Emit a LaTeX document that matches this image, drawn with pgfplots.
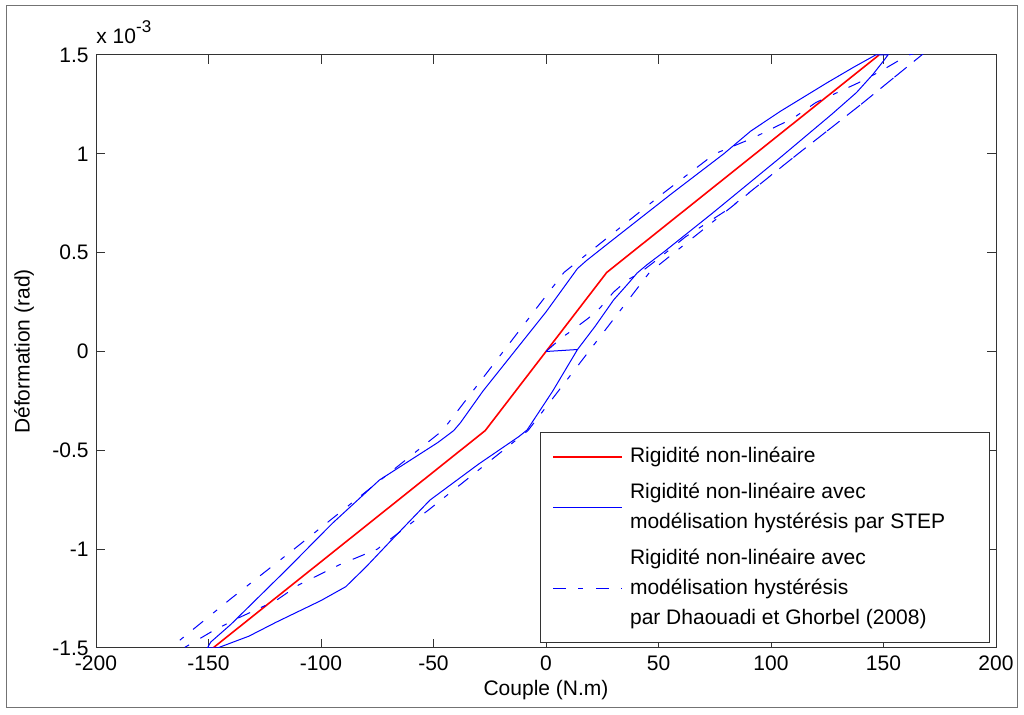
\documentclass[border=0pt]{standalone}
\usepackage{fontspec}
\setmainfont{Liberation Sans}
\usepackage{pgfplots}
\pgfplotsset{compat=1.18}
\definecolor{mblue}{RGB}{0,0,255}
\definecolor{mred}{RGB}{255,0,0}
\begin{document}
\fontsize{10.5}{12.6}\selectfont
\begin{tikzpicture}
\useasboundingbox (0,0) rectangle (512pt,357.5pt);
\draw[black!55, line width=0.5pt] (3pt,3.5pt) rectangle (508.5pt,354.5pt);
\begin{axis}[
  at={(48pt,33.5pt)}, anchor=south west,
  scale only axis, width=450pt, height=296.5pt,
  xmin=-200, xmax=200, ymin=-1.5, ymax=1.5,
  clip mode=individual,
  xtick={-200,-150,-100,-50,0,50,100,150,200},
  xticklabels={-200,-150,-100,-50,0,50,100,150,200},
  ytick={-1.5,-1,-0.5,0,0.5,1,1.5},
  yticklabels={-1.5,-1,-0.5,0,0.5,1,1.5},
  tick align=inside, major tick length=4.5pt,
  tick style={black!80, line width=0.5pt},
  axis line style={black!80, line width=0.5pt},
  ticklabel style={font=\fontsize{10.5}{12.6}\selectfont},
  xticklabel style={inner ysep=0pt, yshift=-3.5pt},
  yticklabel style={inner ysep=0pt},
  xlabel={Couple (N.m)}, ylabel={Déformation (rad)},
  label style={font=\fontsize{10.5}{12.6}\selectfont},
  xlabel style={at={(axis description cs:0.5,0)}, anchor=center, yshift=-21pt},
  ylabel style={at={([xshift=-36pt]axis description cs:0,0.5)}, anchor=center},
  legend image code/.code={\draw[#1] (0pt,0pt) -- (34.5pt,0pt);},
  legend cell align=left,
  legend style={at={(0.4933,0.3642)}, anchor=north west,
    draw=black!80, line width=0.5pt, fill=white,
    font=\fontsize{10.5}{15}\selectfont,
    inner xsep=6pt, inner ysep=5.5pt, row sep=4.5pt, column sep=1.5pt,
    cells={align=left},
  },
]
\addplot[mred, line width=0.8pt] coordinates {
(-148,-1.5) (-27,-0.4) (0,0) (27,0.4) (148,1.5)
};
\addlegendentry{\makebox[171.5pt][l]{Rigidité non-linéaire}}

\addplot[mblue, line width=0.5pt] coordinates {
(0,0) (14,0.01) (22,0.13) (30,0.26) (37,0.35) (40.5,0.397) (45,0.44)
(52,0.5) (74,0.7) (104,0.98) (127,1.2) (138,1.31) (145.3,1.402) (150,1.47) (152,1.5)
(146.5,1.5) (137,1.44) (125,1.36) (104,1.214) (91,1.115) (79,1.0) (56,0.8) (28,0.55) (18,0.46) (14,0.42)
(0,0.2) (-14,0) (-28,-0.2) (-38,-0.36) (-41,-0.4) (-48,-0.46) (-74,-0.65) (-95,-0.87) (-115,-1.1)
(-140,-1.38) (-149,-1.47) (-150.5,-1.5) (-146,-1.5)
(-132,-1.44) (-120,-1.37) (-100,-1.26) (-89,-1.19) (-80,-1.09) (-70,-0.97) (-51.6,-0.752) (-30,-0.57)
(-12,-0.43) (-8.4,-0.397) (3,-0.2) (14,0.01)
};
\addlegendentry{Rigidité non-linéaire avec\\modélisation hystérésis par STEP}

\addplot[mblue, line width=0.5pt, dash pattern=on 6.5pt off 6pt on 2.5pt off 6.5pt] coordinates {
(0,0) (7,0.07) (12,0.11) (19,0.17) (24,0.22) (30,0.30) (36,0.36) (42,0.40)
(50,0.47) (62,0.58) (81,0.72) (112,1.0) (140,1.25) (167,1.5) (169,1.52)
(161,1.5) (149,1.42) (138.6,1.358) (120,1.26) (109.8,1.18) (92,1.08) (75,1.0) (52,0.8)
(30,0.6) (8,0.4) (-19,0) (-46,-0.4) (-79,-0.7) (-112,-1.0) (-140,-1.25)
(-167,-1.5) (-169,-1.52)
(-161,-1.5) (-149,-1.42) (-138.6,-1.358) (-120,-1.26) (-109.8,-1.18) (-92,-1.08) (-75,-1.0)
(-52,-0.8) (-30,-0.6) (-8,-0.4) (19,0) (46,0.4) (79,0.7) (112,1.0) (140,1.25) (167,1.5)
};
\addlegendentry{Rigidité non-linéaire avec\\modélisation hystérésis\\par Dhaouadi et Ghorbel (2008)}

\node[anchor=base west, inner sep=0pt] at ([yshift=5.5pt]rel axis cs:0,1)
  {x 10\raisebox{5.5pt}{\fontsize{8.5}{8.5}\selectfont -3}};
\end{axis}
\end{tikzpicture}
\end{document}
